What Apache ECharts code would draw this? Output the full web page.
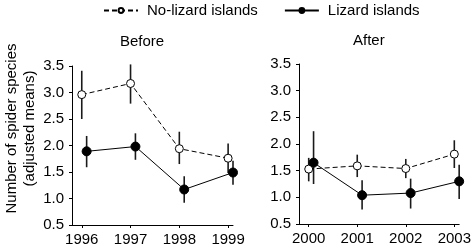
<!DOCTYPE html>
<html>
<head>
<meta charset="utf-8">
<script src="https://cdn.jsdelivr.net/npm/echarts@6/dist/echarts.min.js"></script>
<style>
  html, body {margin: 0; padding: 0; background: #fff;}
  #main {width: 474px; height: 252px;}
</style>
</head>
<body>
<div id="main"></div>
<script>
// data
const yearsBefore = [1996, 1997, 1998, 1999];
const yearsAfter = [2000, 2001, 2002, 2003];

const noLizBefore = [2.96, 3.17, 1.94, 1.76];
const noLizBeforeLo = [2.50, 2.79, 1.65, 1.48];
const noLizBeforeHi = [3.41, 3.53, 2.26, 2.04];
const lizBefore = [1.89, 1.98, 1.17, 1.49];
const lizBeforeLo = [1.59, 1.73, 0.92, 1.26];
const lizBeforeHi = [2.18, 2.23, 1.42, 1.71];

const noLizAfter = [1.53, 1.59, 1.54, 1.81];
const noLizAfterLo = [1.30, 1.38, 1.36, 1.55];
const noLizAfterHi = [1.74, 1.80, 1.72, 2.07];
const lizAfter = [1.65, 1.04, 1.08, 1.30];
const lizAfterLo = [1.25, 0.77, 0.79, 0.97];
const lizAfterHi = [2.24, 1.32, 1.35, 1.61];

const NO_LIZ = 'No-lizard islands';
const LIZ = 'Lizard islands';
const DODGE = 0.1; // filled points sit a little right of the tick
const FONT = '"Liberation Sans", Arial, sans-serif';

const points = (years, vals, dx) => years.map((y, i) => [y + dx, vals[i]]);

function errorBars(axis, years, lo, hi, dx) {
  return {
    type: 'custom',
    xAxisIndex: axis,
    yAxisIndex: axis,
    silent: true,
    z: 1,
    data: years.map((y, i) => [y + dx, lo[i], hi[i]]),
    encode: {x: 0, y: [1, 2]},
    renderItem(params, api) {
      const a = api.coord([api.value(0), api.value(1)]);
      const b = api.coord([api.value(0), api.value(2)]);
      return {
        type: 'line',
        shape: {x1: a[0], y1: a[1], x2: b[0], y2: b[1]},
        style: {stroke: '#1a1a1a', lineWidth: 1.6}
      };
    }
  };
}

function openLine(axis, years, vals) {
  return {
    name: NO_LIZ, type: 'line', xAxisIndex: axis, yAxisIndex: axis, z: 3,
    data: points(years, vals, 0),
    symbol: 'circle', symbolSize: 8, showAllSymbol: true,
    lineStyle: {color: '#000', width: 1, type: [5, 3]},
    itemStyle: {color: '#fff', borderColor: '#000', borderWidth: 1},
    emphasis: {disabled: true}
  };
}

function filledLine(axis, years, vals) {
  return {
    name: LIZ, type: 'line', xAxisIndex: axis, yAxisIndex: axis, z: 4,
    data: points(years, vals, DODGE),
    symbol: 'circle', symbolSize: 9, showAllSymbol: true,
    lineStyle: {color: '#000', width: 1},
    itemStyle: {color: '#000', borderColor: '#000', borderWidth: 1},
    emphasis: {disabled: true}
  };
}

function xAxis(grid, years) {
  return {
    type: 'value', gridIndex: grid,
    min: years[0] - 0.2, max: years[years.length - 1] + 0.1,
    axisLine: {show: true, lineStyle: {color: '#000', width: 1}},
    axisTick: {show: true, customValues: years, length: 3, lineStyle: {color: '#000'}},
    axisLabel: {customValues: years, color: '#000', fontSize: 15, fontFamily: FONT, margin: 7,
      formatter: v => String(Math.round(v))},
    splitLine: {show: false}
  };
}

function yAxis(grid, withName) {
  const ax = {
    type: 'value', gridIndex: grid,
    min: 0.5, max: 3.5, interval: 0.5,
    axisLine: {show: true, lineStyle: {color: '#000', width: 1}},
    axisTick: {show: true, length: 3, lineStyle: {color: '#000'}},
    axisLabel: {color: '#000', fontSize: 15, fontFamily: FONT, margin: 8,
      formatter: v => v.toFixed(1)},
    splitLine: {show: false}
  };
  if (withName) {
    Object.assign(ax, {
      name: 'Number of spider species\n(adjusted means)',
      nameLocation: 'middle',
      nameRotate: 90,
      nameGap: 26,
      nameTextStyle: {color: '#000', fontSize: 15, fontFamily: FONT, lineHeight: 18,
        padding: [0, 0, 0, 34]}
    });
  }
  return ax;
}

const chart = echarts.init(document.getElementById('main'));
chart.setOption({
  animation: false,
  backgroundColor: '#fff',
  textStyle: {fontFamily: FONT},
  title: [
    {text: 'Before', left: 120, top: 34, padding: 0,
      textStyle: {color: '#000', fontSize: 15, fontWeight: 'normal', fontFamily: FONT}},
    {text: 'After', left: 353, top: 33, padding: 0,
      textStyle: {color: '#000', fontSize: 15, fontWeight: 'normal', fontFamily: FONT}}
  ],
  legend: {
    data: [NO_LIZ, LIZ],
    left: 98, top: -2,
    itemWidth: 34, itemHeight: 6, itemGap: 26,
    textStyle: {color: '#000', fontSize: 15, fontFamily: FONT, padding: [0, 0, 0, 4]},
    selectedMode: false
  },
  grid: [
    {left: 72, top: 66, width: 161, height: 159},
    {left: 299, top: 64, width: 161, height: 160}
  ],
  xAxis: [xAxis(0, yearsBefore), xAxis(1, yearsAfter)],
  yAxis: [yAxis(0, true), yAxis(1, false)],
  series: [
    errorBars(0, yearsBefore, noLizBeforeLo, noLizBeforeHi, 0),
    errorBars(0, yearsBefore, lizBeforeLo, lizBeforeHi, DODGE),
    errorBars(1, yearsAfter, noLizAfterLo, noLizAfterHi, 0),
    errorBars(1, yearsAfter, lizAfterLo, lizAfterHi, DODGE),
    openLine(0, yearsBefore, noLizBefore),
    filledLine(0, yearsBefore, lizBefore),
    openLine(1, yearsAfter, noLizAfter),
    filledLine(1, yearsAfter, lizAfter)
  ]
});
</script>
</body>
</html>
